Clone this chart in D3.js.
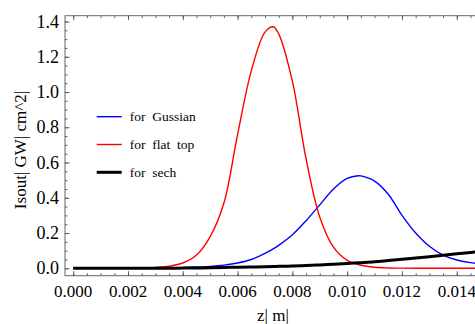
<!DOCTYPE html>
<html>
<head>
<meta charset="utf-8">
<script src="https://cdn.jsdelivr.net/npm/d3@7"></script>
<style>
  body { margin: 0; background: #fff; }
  svg { display: block; font-family: "Liberation Serif", "Times New Roman", serif; }
</style>
</head>
<body>
<div id="chart"></div>
<script>
// z positions (m) shared by all curves
const zVals = [0, 0.0005, 0.001, 0.0015, 0.002, 0.0025, 0.003, 0.0035, 0.004, 0.0045,
  0.005, 0.0055, 0.006, 0.0065, 0.007, 0.0073, 0.0075, 0.008, 0.0085, 0.009,
  0.0095, 0.01, 0.0104, 0.0105, 0.011, 0.0115, 0.012, 0.0125, 0.013, 0.0135,
  0.014, 0.0145, 0.015];

const gaussVals = [0, 0, 0, 0, 0, 0.0005, 0.001, 0.002, 0.004, 0.007,
  0.011, 0.018, 0.030, 0.050, 0.085, 0.11, 0.13, 0.19, 0.27, 0.36,
  0.45, 0.51, 0.525, 0.524, 0.495, 0.42, 0.30, 0.20, 0.125, 0.075,
  0.047, 0.032, 0.022];

const flatVals = [0, 0, 0, 0, 0.001, 0.002, 0.005, 0.012, 0.03, 0.075,
  0.18, 0.37, 0.76, 1.12, 1.34, 1.37, 1.33, 1.06, 0.62, 0.29,
  0.12, 0.045, 0.022, 0.017, 0.006, 0.002, 0.001, 0, 0, 0,
  0, 0, 0];

const sechVals = [0, 0, 0, 0, 0, 0, 0, 0.0005, 0.001, 0.002,
  0.003, 0.0045, 0.006, 0.0075, 0.009, 0.010, 0.011, 0.013, 0.016, 0.019,
  0.023, 0.027, 0.031, 0.032, 0.037, 0.044, 0.051, 0.058, 0.066, 0.074,
  0.082, 0.090, 0.099];

const xTicks = [0, 0.002, 0.004, 0.006, 0.008, 0.010, 0.012, 0.014];
const yTicks = [0, 0.2, 0.4, 0.6, 0.8, 1.0, 1.2, 1.4];

const series = [
  { name: "for  Gussian", vals: gaussVals, color: "#0000ff", w: 1.4 },
  { name: "for  flat  top", vals: flatVals, color: "#ff0000", w: 1.4 },
  { name: "for  sech", vals: sechVals, color: "#000000", w: 3 }
];

const width = 475, height = 324;
const svg = d3.select("#chart").append("svg")
  .attr("width", width).attr("height", height);

const x = d3.scaleLinear().domain([-0.0003, 0.0153]).range([65, 492.4]);
const y = d3.scaleLinear().domain([0, 1.4]).range([268.3, 21.5]);
const yBottom = 275.7, yTop = 15.7;

// frame
svg.append("rect")
  .attr("x", 65).attr("y", yTop)
  .attr("width", 492.4 - 65).attr("height", yBottom - yTop)
  .attr("fill", "none").attr("stroke", "#666").attr("stroke-width", 1);

// minor + major ticks, all inward
const xMinor = d3.range(0, 0.01501, 0.0005);
const yMinor = d3.range(0, 1.4201, 0.05);

function tickAxis(axis, tv, size, tr) {
  const g = svg.append("g").attr("transform", tr)
    .call(axis.tickValues(tv).tickSize(size).tickFormat(""));
  g.select(".domain").remove();
  g.selectAll("line").attr("stroke", "#444").attr("stroke-width", 0.8);
  return g;
}
tickAxis(d3.axisBottom(x), xMinor, -2.5, `translate(0,${yBottom})`);
tickAxis(d3.axisBottom(x), xTicks, -4.5, `translate(0,${yBottom})`);
tickAxis(d3.axisTop(x), xMinor, -2.5, `translate(0,${yTop})`);
tickAxis(d3.axisTop(x), xTicks, -4.5, `translate(0,${yTop})`);
tickAxis(d3.axisLeft(y), yMinor, -2.5, `translate(65,0)`);
tickAxis(d3.axisLeft(y), yTicks, -4.5, `translate(65,0)`);

// tick labels
svg.append("g").selectAll("text").data(xTicks).join("text")
  .attr("x", d => x(d)).attr("y", 297)
  .attr("text-anchor", "middle")
  .attr("font-size", 17)
  .text(d => d3.format(".3f")(d));

svg.append("g").selectAll("text").data(yTicks).join("text")
  .attr("x", 59).attr("y", d => y(d) + 6)
  .attr("text-anchor", "end")
  .attr("font-size", 18)
  .text(d => d3.format(".1f")(d));

// axis titles
svg.append("text")
  .attr("transform", "translate(26,150) rotate(-90)")
  .attr("text-anchor", "middle")
  .attr("font-size", 17)
  .text("Isout| GW| cm^2|");

svg.append("text")
  .attr("x", 273).attr("y", 321)
  .attr("text-anchor", "middle")
  .attr("font-size", 17)
  .text("z| m|");

// curves
const line = d3.line()
  .x((d, i) => x(zVals[i]))
  .y(d => y(d))
  .curve(d3.curveCatmullRom.alpha(0.5));

svg.append("clipPath").attr("id", "plot")
  .append("rect").attr("x", 65).attr("y", yTop)
  .attr("width", 492.4 - 65).attr("height", yBottom - yTop);

svg.append("g").attr("clip-path", "url(#plot)")
  .selectAll("path").data(series).join("path")
  .attr("d", d => line(d.vals))
  .attr("fill", "none")
  .attr("stroke", d => d.color)
  .attr("stroke-width", d => d.w)
  .attr("stroke-linejoin", "round");

// legend
const leg = svg.append("g").selectAll("g").data(series).join("g")
  .attr("transform", (d, i) => `translate(96.7,${116.7 + i * 27.8})`);
leg.append("line")
  .attr("x1", 0).attr("x2", 25)
  .attr("stroke", d => d.color)
  .attr("stroke-width", d => d.w);
leg.append("text")
  .attr("x", 33).attr("y", 4.5)
  .attr("font-size", 13.5)
  .attr("xml:space", "preserve")
  .style("white-space", "pre")
  .text(d => d.name);
</script>
</body>
</html>
